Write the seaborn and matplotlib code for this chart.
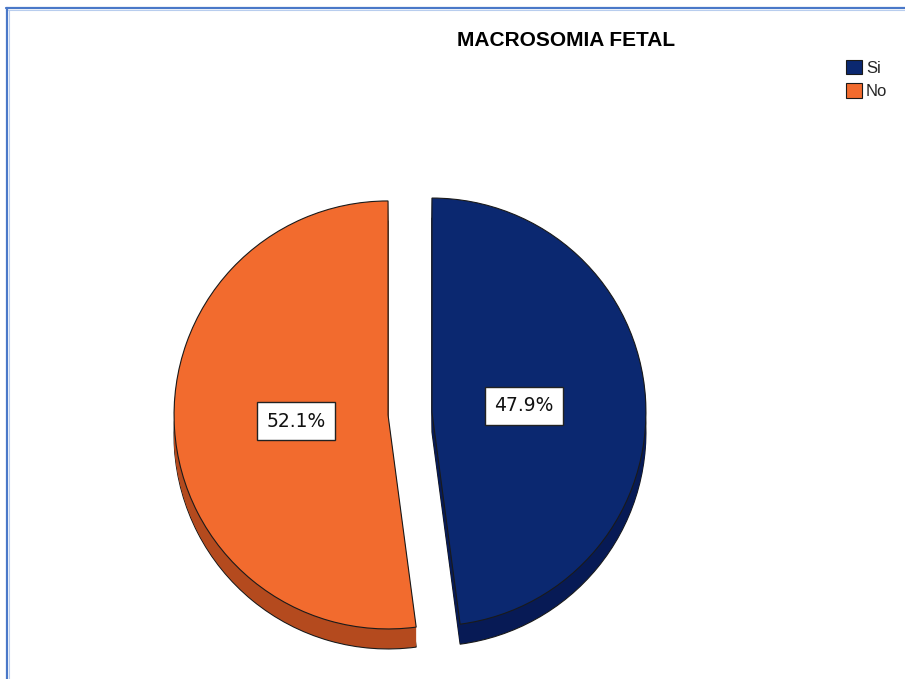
import matplotlib
matplotlib.use("Agg")
import matplotlib.pyplot as plt
import seaborn as sns
from matplotlib.lines import Line2D

# ---- data ----
categories = ["Si", "No"]
percentages = [47.9, 52.1]
title = "MACROSOMIA FETAL"

# ---- style ----
top_colors = ["#0B2870", "#F26B2E"]
side_colors = ["#071A55", "#B44A1E"]
edge_color = "#1A1A1A"

sns.set_theme(style="white")
plt.rcParams["font.family"] = ["Liberation Sans", "DejaVu Sans"]

W, H = 905, 679
fig = plt.figure(figsize=(W / 100, H / 100), dpi=100)
fig.patch.set_facecolor("white")
ax = fig.add_axes([0, 0, 1, 1])

radius = 214
explode = [22, 22]
cx, cy = 410, H - 413.5
depth = 20

# side (extrusion) layers
for k in range(depth, 0, -1):
    ax.pie(
        percentages, colors=side_colors, startangle=90, counterclock=False,
        radius=radius, explode=explode, center=(cx, cy - k), frame=True,
        wedgeprops=dict(edgecolor=edge_color if k == depth else "none",
                        linewidth=0.8 if k == depth else 0),
    )

# top face
wedges, texts, autotexts = ax.pie(
    percentages, colors=top_colors, startangle=90, counterclock=False,
    radius=radius, explode=explode, center=(cx, cy), frame=True,
    autopct=lambda p: f"{p:.1f}%", pctdistance=0.43,
    wedgeprops=dict(edgecolor=edge_color, linewidth=0.8),
    textprops=dict(color="#111111", fontsize=13.5, family="DejaVu Sans"),
)
for t in autotexts:
    t.set_linespacing(1.6)
    t.set_bbox(dict(boxstyle="square,pad=0.5", facecolor="white",
                    edgecolor="#222222", linewidth=1))

ax.set_xlim(0, W)
ax.set_ylim(0, H)
ax.set_aspect("equal")
ax.axis("off")

# title
fig.text(566 / W, 1 - 40 / H, title, ha="center", va="center",
         fontsize=15, fontweight="bold", color="black")

# legend
fig.legend(wedges, categories, loc="upper left",
           bbox_to_anchor=(846 / W, 1 - 60 / H), frameon=False,
           fontsize=12, handlelength=0.95, handleheight=0.95,
           handletextpad=0.25, labelspacing=0.45, borderpad=0,
           borderaxespad=0)

# blue frame (top and left)
fig.add_artist(Line2D([6.5 / W, 6.5 / W], [0, 1 - 8 / H], transform=fig.transFigure,
                      color="#4A78C8", lw=1.6))
fig.add_artist(Line2D([6 / W, 1], [1 - 8 / H, 1 - 8 / H], transform=fig.transFigure,
                      color="#4A78C8", lw=1.6))
fig.add_artist(Line2D([8.5 / W, 8.5 / W], [0, 1 - 10 / H], transform=fig.transFigure,
                      color="#B8CDEE", lw=0.8))
fig.add_artist(Line2D([8 / W, 1], [1 - 10 / H, 1 - 10 / H], transform=fig.transFigure,
                      color="#B8CDEE", lw=0.8))

fig.savefig("out.png", dpi=100, facecolor="white")
